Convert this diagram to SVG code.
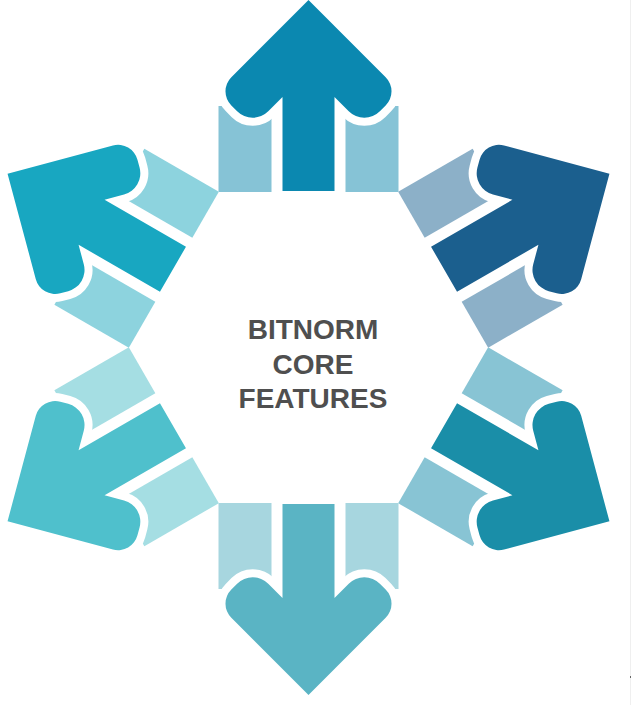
<svg xmlns="http://www.w3.org/2000/svg" width="634" height="705" viewBox="0 0 634 705">
  <defs>
    <style>
      .arrow { stroke: #ffffff; stroke-width: 16; stroke-linejoin: round; paint-order: stroke; }
      .label { font-family: "Liberation Sans", Arial, sans-serif; font-weight: bold; font-size: 28px; fill: #4f4f4f; text-anchor: middle; }
    </style>
    <path id="tabL" d="M -90,0 L -90,-86 L -37,-86 L -37,0 Z"/>
    <path id="tabR" d="M 37,0 L 37,-86 L 90,-86 L 90,0 Z"/>
    <path id="arrowShape" d="M 0,-192 L 77.16,-114.84 A 20 20 0 0 1 77.16,-86.56 L 71.36,-80.76 A 22 22 0 0 1 40.24,-80.76 L 26,-95 L 26,-1 L -26,-1 L -26,-95 L -40.24,-80.76 A 22 22 0 0 1 -71.36,-80.76 L -77.16,-86.56 A 20 20 0 0 1 -77.16,-114.84 Z"/>
  </defs>
  <rect x="0" y="0" width="634" height="705" fill="#ffffff"/>
  <line x1="630.5" y1="0" x2="630.5" y2="705" stroke="#efefef" stroke-width="1"/>
  <rect x="630" y="676" width="1" height="2" fill="#666666"/>

  <g id="arrow-top" transform="translate(308.5,347.5) rotate(0) translate(0,-155.5)">
    <use href="#tabL" fill="#86c3d6"/>
    <use href="#tabR" fill="#86c3d6"/>
    <use href="#arrowShape" class="arrow" fill="#0b88b0"/>
  </g>
  <g id="arrow-upper-right" transform="translate(308.5,347.5) rotate(60) translate(0,-155.5)">
    <use href="#tabL" fill="#8cb0c8"/>
    <use href="#tabR" fill="#8cb0c8"/>
    <use href="#arrowShape" class="arrow" fill="#1b5f8e"/>
  </g>
  <g id="arrow-lower-right" transform="translate(308.5,347.5) rotate(120) translate(0,-155.5)">
    <use href="#tabL" fill="#88c4d4"/>
    <use href="#tabR" fill="#88c4d4"/>
    <use href="#arrowShape" class="arrow" fill="#1a8ea8"/>
  </g>
  <g id="arrow-bottom" transform="translate(308.5,347.5) rotate(180) translate(0,-155.5)">
    <use href="#tabL" fill="#a7d6df"/>
    <use href="#tabR" fill="#a7d6df"/>
    <use href="#arrowShape" class="arrow" fill="#5ab4c4"/>
  </g>
  <g id="arrow-lower-left" transform="translate(308.5,347.5) rotate(240) translate(0,-155.5)">
    <use href="#tabL" fill="#a5dee3"/>
    <use href="#tabR" fill="#a5dee3"/>
    <use href="#arrowShape" class="arrow" fill="#4fc0cc"/>
  </g>
  <g id="arrow-upper-left" transform="translate(308.5,347.5) rotate(300) translate(0,-155.5)">
    <use href="#tabL" fill="#8dd3de"/>
    <use href="#tabR" fill="#8dd3de"/>
    <use href="#arrowShape" class="arrow" fill="#18a7c1"/>
  </g>

  <g id="center-label">
    <text class="label" x="313" y="339">BITNORM</text>
    <text class="label" x="313" y="374">CORE</text>
    <text class="label" x="313" y="408">FEATURES</text>
  </g>
</svg>
